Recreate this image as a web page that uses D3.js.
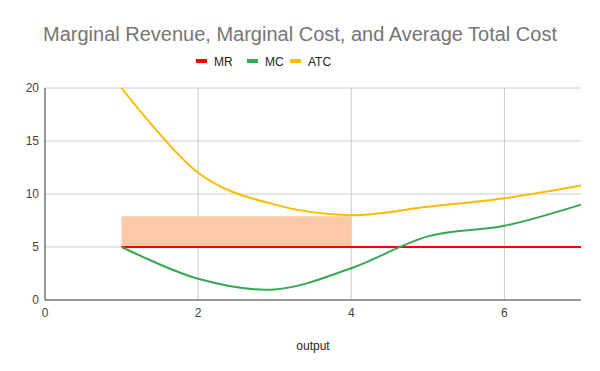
<!DOCTYPE html>
<html>
<head>
<meta charset="utf-8">
<script src="https://cdn.jsdelivr.net/npm/d3@7"></script>
<style>
  body { margin: 0; background: #fff; }
  svg { font-family: Arial, "Liberation Sans", sans-serif; }
</style>
</head>
<body>
<svg id="chart"></svg>
<script>
const output = [1, 2, 3, 4, 5, 6, 7];
const mr = [5, 5, 5, 5, 5, 5, 5];
const mc = [5, 2, 1, 3, 6, 7, 9];
const atc = [20, 12, 9, 8, 8.8, 9.6, 10.8];
const shadeX = [1, 4];
const shadeY = [5, 7.9];
const xTicks = [0, 2, 4, 6];
const yTicks = [0, 5, 10, 15, 20];

const series = [
  {name: "MR", values: mr, color: "#ff0000"},
  {name: "MC", values: mc, color: "#34a853"},
  {name: "ATC", values: atc, color: "#fbbc04"}
];

const svg_size = {width: 600, height: 371};
const margin = {top: 88, right: 19, bottom: 71, left: 45};
const plot_width = svg_size.width - margin.left - margin.right;
const plot_height = svg_size.height - margin.top - margin.bottom;

const svg = d3.select("#chart")
    .attr("width", svg_size.width)
    .attr("height", svg_size.height);

svg.append("text")
    .attr("x", 300)
    .attr("y", 41)
    .attr("text-anchor", "middle")
    .attr("fill", "#757575")
    .attr("font-size", 20)
    .text("Marginal Revenue, Marginal Cost, and Average Total Cost");

// legend
const legendX = [196, 247, 290];
const legend = svg.append("g");
series.forEach((s, i) => {
    legend.append("rect")
        .attr("x", legendX[i])
        .attr("y", 59)
        .attr("width", 11)
        .attr("height", 4)
        .attr("fill", s.color);
    legend.append("text")
        .attr("x", legendX[i] + 18)
        .attr("y", 65.5)
        .attr("font-size", 12)
        .attr("fill", "#222")
        .text(s.name);
});

const plot = svg.append("g")
    .attr("transform", `translate(${margin.left},${margin.top})`);

const x = d3.scaleLinear().domain([0, 7]).range([0, plot_width]);
const y = d3.scaleLinear().domain([0, 20]).range([plot_height, 0]);

// grid
plot.append("g")
    .selectAll("line")
    .data(yTicks.filter(d => d > 0))
    .enter().append("line")
    .attr("x1", 0).attr("x2", plot_width)
    .attr("y1", d => y(d)).attr("y2", d => y(d))
    .attr("stroke", "#cccccc");
plot.append("g")
    .selectAll("line")
    .data(xTicks.filter(d => d > 0))
    .enter().append("line")
    .attr("y1", 0).attr("y2", plot_height)
    .attr("x1", d => x(d)).attr("x2", d => x(d))
    .attr("stroke", "#cccccc");

// shaded area
plot.append("rect")
    .attr("x", x(shadeX[0]))
    .attr("y", y(shadeY[1]))
    .attr("width", x(shadeX[1]) - x(shadeX[0]))
    .attr("height", y(shadeY[0]) - y(shadeY[1]))
    .attr("fill", "#fdc9a6");

// baselines
plot.append("line")
    .attr("x1", 0).attr("x2", plot_width)
    .attr("y1", y(0)).attr("y2", y(0))
    .attr("stroke", "#333");
plot.append("line")
    .attr("x1", x(0)).attr("x2", x(0))
    .attr("y1", 0).attr("y2", plot_height)
    .attr("stroke", "#333");

// tick labels
plot.append("g")
    .selectAll("text")
    .data(yTicks)
    .enter().append("text")
    .attr("x", -6)
    .attr("y", d => y(d) + 4)
    .attr("text-anchor", "end")
    .attr("font-size", 12)
    .attr("fill", "#444")
    .text(d => d);
plot.append("g")
    .selectAll("text")
    .data(xTicks)
    .enter().append("text")
    .attr("x", d => x(d))
    .attr("y", plot_height + 17)
    .attr("text-anchor", "middle")
    .attr("font-size", 12)
    .attr("fill", "#444")
    .text(d => d);

svg.append("text")
    .attr("x", margin.left + x(3.5))
    .attr("y", 350)
    .attr("text-anchor", "middle")
    .attr("font-size", 12)
    .attr("fill", "#222")
    .text("output");

const line = d3.line()
    .x(d => x(d[0]))
    .y(d => y(d[1]))
    .curve(d3.curveCatmullRom.alpha(0));

series.forEach(s => {
    plot.append("path")
        .datum(output.map((o, i) => [o, s.values[i]]))
        .attr("fill", "none")
        .attr("stroke", s.color)
        .attr("stroke-width", 2)
        .attr("d", line);
});
</script>
</body>
</html>
